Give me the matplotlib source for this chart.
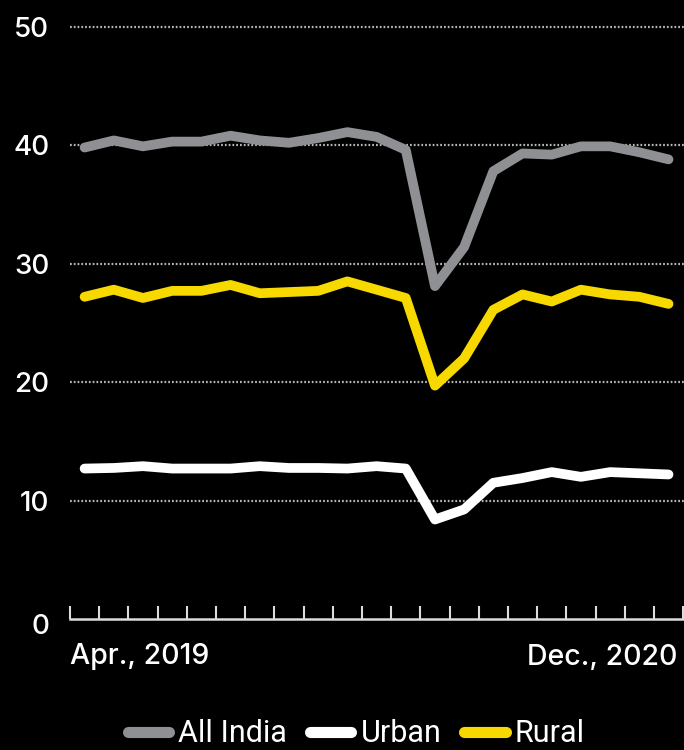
import matplotlib
matplotlib.use("Agg")
import matplotlib.pyplot as plt
from matplotlib.lines import Line2D
import matplotlib.transforms as mtransforms

plt.rcParams['font.family'] = ['Inter', 'DejaVu Sans']

# Monthly series, Apr 2019 .. Dec 2020
months = ["Apr 2019", "May 2019", "Jun 2019", "Jul 2019", "Aug 2019", "Sep 2019",
          "Oct 2019", "Nov 2019", "Dec 2019", "Jan 2020", "Feb 2020", "Mar 2020",
          "Apr 2020", "May 2020", "Jun 2020", "Jul 2020", "Aug 2020", "Sep 2020",
          "Oct 2020", "Nov 2020", "Dec 2020"]
all_india = [39.8, 40.4, 39.9, 40.3, 40.3, 40.8, 40.4, 40.2, 40.6, 41.1, 40.7, 39.6,
             28.1, 31.4, 37.8, 39.3, 39.2, 39.9, 39.9, 39.4, 38.8]
urban = [12.7, 12.75, 12.9, 12.7, 12.7, 12.7, 12.9, 12.75, 12.75, 12.7, 12.9, 12.7,
         8.4, 9.25, 11.5, 11.9, 12.4, 12.0, 12.4, 12.3, 12.2]
rural = [27.2, 27.8, 27.1, 27.7, 27.7, 28.2, 27.5, 27.6, 27.7, 28.5, 27.8, 27.1,
         19.7, 22.0, 26.1, 27.4, 26.8, 27.8, 27.4, 27.2, 26.6]
series_names = ["All India", "Urban", "Rural"]
y_ticks = [0, 10, 20, 30, 40, 50]
x_labels = ["Apr., 2019", "Dec., 2020"]

colors = {"All India": "#8e9093", "Urban": "#ffffff", "Rural": "#f7d900"}

fig = plt.figure(figsize=(6.84, 7.5), dpi=100, facecolor="black")
ax = fig.add_axes([70 / 684, 1 - 619 / 750, 614 / 684, (619 - 26.7) / 750])
ax.set_facecolor("black")

n = len(months)
xs = [i + 0.5 for i in range(n)]

# dotted horizontal guides
for v in y_ticks[1:]:
    ax.axhline(v, color="#b5b5b5", linewidth=1.6, linestyle=(0, (0.8, 0.9)),
               zorder=1, clip_on=False)

for name, vals in zip(series_names, [all_india, urban, rural]):
    ax.plot(xs, vals, color=colors[name], linewidth=7, solid_capstyle="round",
            solid_joinstyle="round", zorder=3)

ax.set_xlim(0, 21.03)
ax.set_ylim(0, 50)

for side in ["top", "right", "left"]:
    ax.spines[side].set_visible(False)
ax.spines["bottom"].set_color("#dcdcdc")
ax.spines["bottom"].set_linewidth(1.8)

ax.set_xticks(range(n + 1))
ax.set_xticklabels([])
ax.tick_params(axis="x", direction="in", length=9.5, width=1.5, color="#dcdcdc")

ax.set_yticks(y_ticks)
ax.set_yticklabels([str(v) for v in y_ticks])
ax.tick_params(axis="y", length=0, pad=15, labelsize=20, labelcolor="white")
for lbl in ax.get_yticklabels():
    lbl.set_fontweight("medium")
# the baseline label sits a little under the axis line
zero_lbl = ax.get_yticklabels()[0]
zero_lbl.set_transform(zero_lbl.get_transform() +
                       mtransforms.ScaledTranslation(0, -5 / 100, fig.dpi_scale_trans))

trans = mtransforms.blended_transform_factory(ax.transData, fig.transFigure)
ax.text(0, 1 - 657 / 750, x_labels[0], transform=trans, ha="left", va="center",
        fontsize=20.5, color="white", fontweight="medium")
ax.text(21.0 - 0.2, 1 - 657 / 750, x_labels[1], transform=trans, ha="right", va="center",
        fontsize=20.5, color="white", fontweight="medium")

handles = [Line2D([0], [0], color=colors[nm], linewidth=8, solid_capstyle="round")
           for nm in series_names]
leg = fig.legend(handles, series_names, loc="center", bbox_to_anchor=(0.521, 1 - 734 / 750),
                 ncol=3, frameon=False, handlelength=1.35,
                 handletextpad=0.3, columnspacing=0.75, labelcolor="white",
                 borderpad=0, borderaxespad=0, prop={"family": ["Roboto", "DejaVu Sans"],
                                                     "size": 22})

fig.savefig("out.png", dpi=100, facecolor="black")
